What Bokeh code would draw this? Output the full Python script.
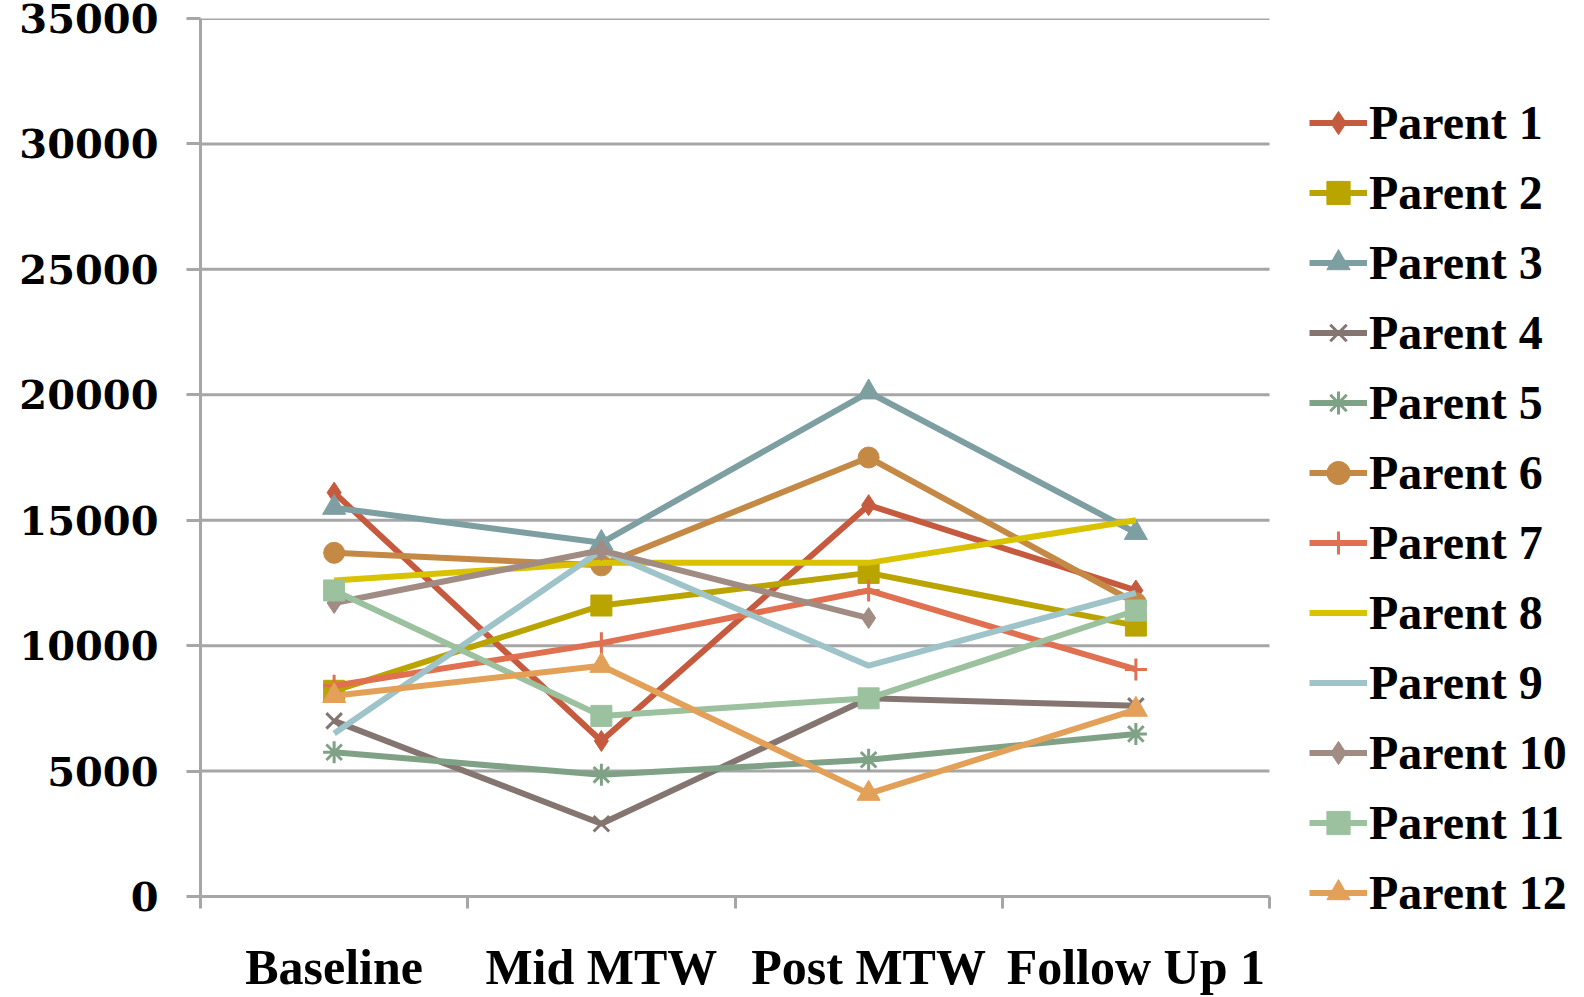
from bokeh.plotting import figure
from bokeh.models import Range1d, FixedTicker, Legend, LegendItem
from bokeh.embed import file_html
from bokeh.resources import INLINE

categories = ["Baseline", "Mid MTW", "Post MTW", "Follow Up 1"]
y_ticks = [0, 5000, 10000, 15000, 20000, 25000, 30000, 35000]

parent_1 = [16100, 6200, 15600, 12200]
parent_2 = [8200, 11600, 12900, 10800]
parent_3 = [15500, 14100, 20100, 14500]
parent_4 = [7000, 2900, 7900, 7600]
parent_5 = [5750, 4850, 5450, 6480]
parent_6 = [13700, 13200, 17500, 11700]
parent_7 = [8400, 10100, 12200, 9050]
parent_8 = [12600, 13300, 13300, 15000]
parent_9 = [6500, 13800, 9200, 12100]
parent_10 = [11700, 13800, 11100, float("nan")]
parent_11 = [12200, 7200, 7900, 11400]
parent_12 = [8000, 9200, 4100, 7450]

series = [
    ("Parent 1", parent_1, "#C65A3E", "diamond"),
    ("Parent 2", parent_2, "#BAA400", "square"),
    ("Parent 3", parent_3, "#7E9FA2", "triangle"),
    ("Parent 4", parent_4, "#857570", "x"),
    ("Parent 5", parent_5, "#7FA286", "asterisk"),
    ("Parent 6", parent_6, "#C48A45", "circle"),
    ("Parent 7", parent_7, "#E07050", "cross"),
    ("Parent 8", parent_8, "#D9C300", None),
    ("Parent 9", parent_9, "#9EC3C8", None),
    ("Parent 10", parent_10, "#A08C82", "diamond"),
    ("Parent 11", parent_11, "#9CC19F", "square"),
    ("Parent 12", parent_12, "#E2A058", "triangle"),
]

n = len(categories)
x_pos = [i + 0.5 for i in range(n)]

plot_w = 1069      # width of the category area in px
gap_w = 40         # gap between plot area and legend in px
x_end = n * (plot_w + gap_w) / plot_w

p = figure(frame_width=plot_w + gap_w, frame_height=878, output_backend="svg", toolbar_location=None,
           x_range=Range1d(0, x_end), y_range=Range1d(0, 35000),
           min_border_left=200, min_border_right=0, min_border_top=18, min_border_bottom=90)
p.outline_line_color = None
p.background_fill_color = "white"
p.xgrid.visible = False
p.ygrid.visible = False

grey = "#A6A6A6"
# horizontal gridlines limited to the category area
p.segment(x0=[0] * len(y_ticks), x1=[n] * len(y_ticks), y0=y_ticks, y1=y_ticks,
          line_color=grey, line_width=3)

# y axis
p.yaxis.ticker = FixedTicker(ticks=y_ticks)
p.yaxis.axis_line_color = grey
p.yaxis.axis_line_width = 3
p.yaxis.major_tick_line_color = grey
p.yaxis.major_tick_line_width = 3
p.yaxis.major_tick_out = 14
p.yaxis.major_tick_in = 0
p.yaxis.minor_tick_line_color = None
p.yaxis.major_label_standoff = 28
p.yaxis.major_label_text_font = "DejaVu Serif"
p.yaxis.major_label_text_font_style = "bold"
p.yaxis.major_label_text_font_size = "40px"
p.yaxis.major_label_text_line_height = 1.0
p.yaxis.major_label_text_color = "black"

# x axis
p.xaxis.bounds = (0, n)
p.xaxis.ticker = FixedTicker(ticks=x_pos, minor_ticks=list(range(n + 1)))
p.xaxis.major_label_overrides = {x: c for x, c in zip(x_pos, categories)}
p.xaxis.axis_line_color = grey
p.xaxis.axis_line_width = 3
p.xaxis.major_tick_line_color = None
p.xaxis.minor_tick_line_color = grey
p.xaxis.minor_tick_line_width = 3
p.xaxis.minor_tick_out = 12
p.xaxis.minor_tick_in = 0
p.xaxis.major_label_standoff = 30
p.xaxis.major_label_text_font = "Liberation Serif"
p.xaxis.major_label_text_font_style = "bold"
p.xaxis.major_label_text_font_size = "50px"
p.xaxis.major_label_text_line_height = 1.0
p.xaxis.major_label_text_color = "black"

items = []
for name, vals, color, marker in series:
    rs = [p.line(x_pos, vals, line_color=color, line_width=6)]
    if marker is not None:
        if marker in ("x", "asterisk", "cross"):
            rs.append(p.scatter(x_pos, vals, marker=marker, size=22, line_color=color,
                                line_width=3, fill_color=color))
        else:
            sz = 21 if marker != "triangle" else 23
            rs.append(p.scatter(x_pos, vals, marker=marker, size=sz, line_color=color,
                                fill_color=color, line_width=1))
    items.append(LegendItem(label=name, renderers=rs))

legend = Legend(items=items, location=(0, -27), padding=0, margin=0,
                border_line_color=None, background_fill_alpha=0,
                glyph_width=58, glyph_height=61, label_height=61, spacing=9,
                label_standoff=2, label_text_font="Liberation Serif",
                label_text_font_style="bold", label_text_font_size="48px",
                label_text_color="black")
p.add_layout(legend, "right")

open("out.html", "w").write(file_html(p, INLINE))
